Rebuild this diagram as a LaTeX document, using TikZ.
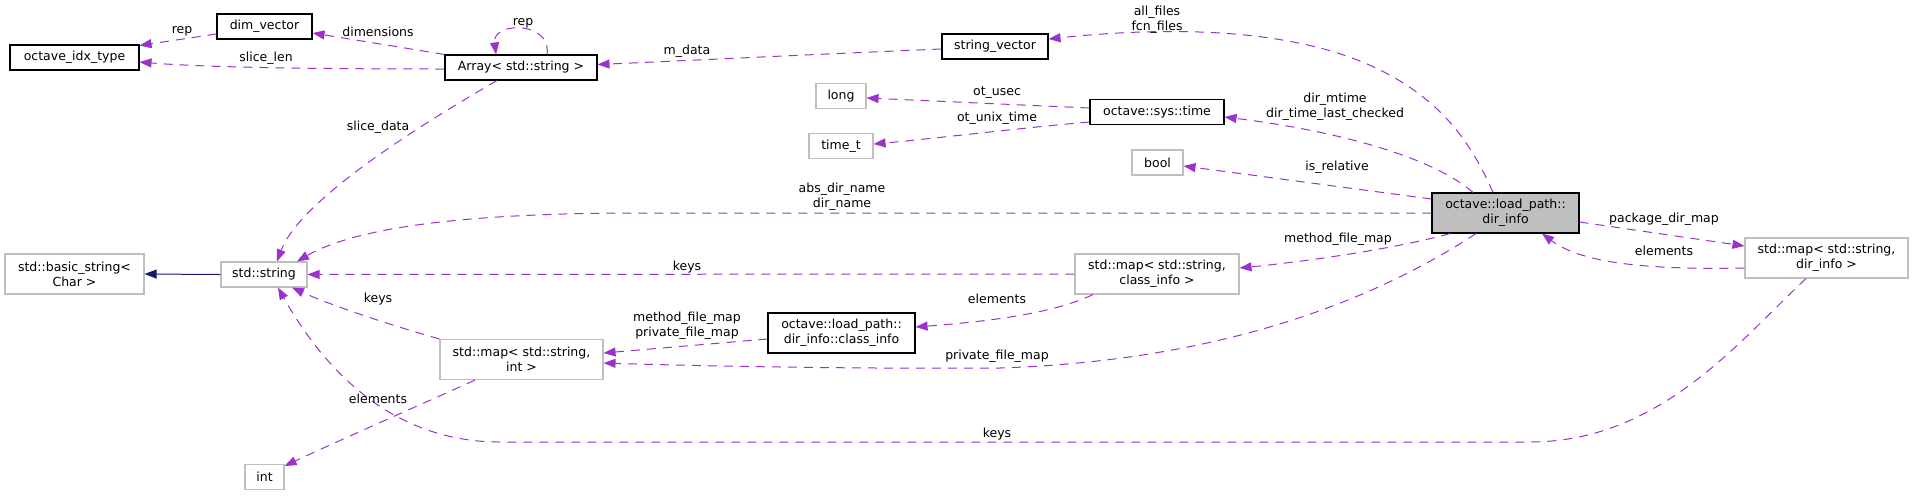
\documentclass[tikz,border=0pt]{standalone}
\usepackage{fontspec}
\setmainfont{DejaVu Sans}
\usetikzlibrary{arrows.meta}
\definecolor{edgep}{HTML}{9A32CD}
\definecolor{inhc}{HTML}{191970}
\definecolor{greyseventyfive}{HTML}{BFBFBF}
\begin{document}
\begin{tikzpicture}[x=1pt,y=-1pt,
  every node/.style={font=\fontsize{12.5}{15}\selectfont, inner sep=0pt, align=center},
  docbox/.style={draw=black, line width=1.1pt, fill=white, minimum height=25pt},
  extbox/.style={draw=greyseventyfive, line width=1.1pt, fill=white, minimum height=25pt},
  curbox/.style={draw=black, line width=1.1pt, fill=greyseventyfive, minimum height=40pt},
  rel/.style={draw=edgep, line width=1pt, dash pattern=on 9pt off 7pt, -{Triangle[length=12pt,width=9pt]}},
  inhe/.style={draw=inhc, line width=1pt, -{Triangle[length=12pt,width=9pt]}},
  lbl/.style={}
]
\useasboundingbox (0,0) rectangle (1913,496);

% nodes
\node[docbox, minimum width=129pt] (idx) at (74.5,57.5) {octave\_idx\_type};
\node[docbox, minimum width=95pt] (dimv) at (264.5,26.5) {dim\_vector};
\node[docbox, minimum width=152pt] (arr) at (521,67.5) {Array< std::string >};
\node[docbox, minimum width=106pt] (strvec) at (995,46.5) {string\_vector};
\node[extbox, minimum width=50pt] (long) at (841,96) {long};
\node[docbox, minimum width=134pt] (time) at (1157,112) {octave::sys::time};
\node[extbox, minimum width=64pt] (timet) at (841,146) {time\_t};
\node[extbox, minimum width=51pt] (bool) at (1157.5,162.5) {bool};
\node[curbox, minimum width=147pt] (dirinfo) at (1505.5,213) {octave::load\_path::\\dir\_info};
\node[extbox, minimum width=163pt, minimum height=40pt] (mapdir) at (1826.5,258) {std::map< std::string,\\dir\_info >};
\node[extbox, minimum width=139pt, minimum height=40pt] (basic) at (74.5,274) {std::basic\_string<\\Char >};
\node[extbox, minimum width=86pt] (str) at (264,274.5) {std::string};
\node[extbox, minimum width=163pt, minimum height=40pt] (mapint) at (521.5,359.5) {std::map< std::string,\\int >};
\node[extbox, minimum width=39pt] (int) at (264.5,477) {int};
\node[extbox, minimum width=164pt, minimum height=40pt] (mapcls) at (1157,274) {std::map< std::string,\\class\_info >};
\node[docbox, minimum width=147pt, minimum height=40pt] (clsinfo) at (841.5,333) {octave::load\_path::\\dir\_info::class\_info};

% edges
\draw[rel] ([yshift=-7.5pt]dimv.west) -- ([yshift=-1pt]idx.north east);
\draw[rel] (arr.north west) -- ([yshift=-6.5pt]dimv.east);
\draw[rel] ([yshift=-1.5pt]arr.west) .. controls (300,69) and (200,67) .. ([yshift=-4.5pt]idx.east);
\draw[rel] ([xshift=26pt]arr.north) .. controls (552,21) and (492,21) .. ([xshift=-25pt]arr.north);
\draw[rel] ([xshift=-24pt]arr.south) .. controls (420,125) and (300,200) .. ([xshift=13pt]str.north);
\draw[rel] ([yshift=-2.5pt]strvec.west) .. controls (800,55) and (700,60) .. ([yshift=3pt]arr.east);
\draw[rel] ([xshift=-12.5pt]dirinfo.north) .. controls (1470,140) and (1440,100) .. (1380,70) .. controls (1300,30) and (1180,25) .. ([yshift=7.5pt]strvec.east);
\draw[rel] ([yshift=4pt]time.west) -- ([yshift=-2pt]long.east);
\draw[rel] ([yshift=-10pt]time.west) .. controls (1020,128) and (940,138) .. ([yshift=2pt]timet.east);
\draw[rel] ([xshift=-32.5pt]dirinfo.north) .. controls (1430,155) and (1330,130) .. ([yshift=-5pt]time.east);
\draw[rel] ([yshift=14pt]dirinfo.west) -- ([yshift=-3.5pt]bool.east);
\draw[rel] (dirinfo.west) -- (640,213) .. controls (480,213) and (360,225) .. ([xshift=33pt]str.north);
\draw[rel] ([xshift=-55.5pt]dirinfo.south) .. controls (1390,250) and (1300,262) .. ([yshift=6pt]mapcls.east);
\draw[rel] ([xshift=-29.5pt]dirinfo.south) .. controls (1390,290) and (1240,360) .. (1000,368) .. controls (850,369) and (700,366) .. ([yshift=-3.5pt]mapint.east);
\draw[rel] ([yshift=-9pt]dirinfo.east) -- ([yshift=12pt]mapdir.west);
\draw[rel] ([yshift=-10pt]mapdir.west) .. controls (1640,270) and (1580,262) .. ([xshift=36.5pt]dirinfo.south);
\draw[rel] ([xshift=-20.5pt]mapdir.south) .. controls (1740,340) and (1660,442) .. (1530,442) -- (500,442) .. controls (400,442) and (330,380) .. ([xshift=14pt]str.south);
\draw[rel] (mapcls.west) -- (str.east);
\draw[rel] ([xshift=-64pt]mapcls.south) .. controls (1050,315) and (980,322) .. ([yshift=6pt]clsinfo.east);
\draw[rel] ([yshift=-6pt]clsinfo.west) -- ([yshift=6.5pt]mapint.east);
\draw[rel] (mapint.north west) .. controls (390,325) and (330,305) .. ([xshift=28pt]str.south);
\draw[rel] ([xshift=-46.5pt]mapint.south) .. controls (420,405) and (340,440) .. ([yshift=11pt]int.east);
\draw[inhe] (str.west) -- (basic.east);

% labels
\node[lbl] (Lrep) at (182,31) {rep};
\node[lbl] (Ldim) at (378,32) {dimensions};
\node[lbl] (Lslen) at (266,58) {slice\_len};
\node[lbl] (Lrep2) at (523,23) {rep};
\node[lbl] (Lsdata) at (378,127) {slice\_data};
\node[lbl] (Lall) at (1157,20) {all\_files\\fcn\_files};
\node[lbl] (Lmdata) at (687,51) {m\_data};
\node[lbl] (Lusec) at (997,93) {ot\_usec};
\node[lbl] (Lunix) at (997,118) {ot\_unix\_time};
\node[lbl] (Lmtime) at (1335,107) {dir\_mtime\\dir\_time\_last\_checked};
\node[lbl] (Lrel) at (1337,167) {is\_relative};
\node[lbl] (Labs) at (842,197) {abs\_dir\_name\\dir\_name};
\node[lbl] (Lpkg) at (1664,219) {package\_dir\_map};
\node[lbl] (Lel1) at (1664,251) {elements};
\node[lbl] (Lmfm) at (1338,239) {method\_file\_map};
\node[lbl] (Lkeys1) at (687,267) {keys};
\node[lbl] (Lel2) at (997,299) {elements};
\node[lbl] (Lmp) at (687,326) {method\_file\_map\\private\_file\_map};
\node[lbl] (Lpfm) at (997,356) {private\_file\_map};
\node[lbl] (Lkeys2) at (378,299) {keys};
\node[lbl] (Lel3) at (378,399) {elements};
\node[lbl] (Lkeys3) at (997,434) {keys};
\end{tikzpicture}
\end{document}
